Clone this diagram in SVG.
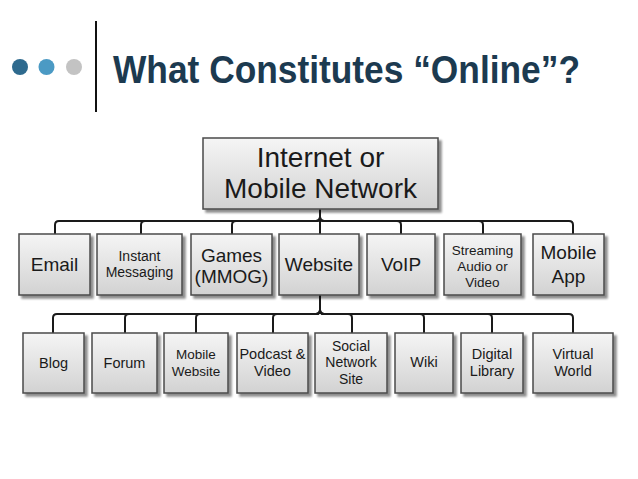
<svg xmlns="http://www.w3.org/2000/svg" width="638" height="479" viewBox="0 0 638 479">
<defs>
<linearGradient id="g" x1="0" y1="0" x2="0" y2="1">
<stop offset="0" stop-color="#f5f5f5"/>
<stop offset="1" stop-color="#d2d2d2"/>
</linearGradient>
<filter id="sh" x="-20%" y="-20%" width="140%" height="140%">
<feGaussianBlur in="SourceAlpha" stdDeviation="1.2"/>
<feOffset dx="3" dy="3" result="o"/>
<feComponentTransfer><feFuncA type="linear" slope="0.45"/></feComponentTransfer>
<feMerge><feMergeNode/><feMergeNode in="SourceGraphic"/></feMerge>
</filter>
</defs>
<style>
.box{fill:url(#g);stroke:#4a4a4a;stroke-width:1.5;filter:url(#sh)}
.t{font-family:"Liberation Sans",Arial,sans-serif;fill:#1a1a1a;text-anchor:middle}
.c{fill:none;stroke:#1a1a1a;stroke-width:2}
</style>
<rect width="638" height="479" fill="#ffffff"/>
<g id="title">
<circle cx="20" cy="67" r="8" fill="#2e6a8e"/>
<circle cx="46.5" cy="67" r="8" fill="#4b9ac4"/>
<circle cx="74" cy="67" r="8" fill="#c3c3c3"/>
<line x1="96" y1="21" x2="96" y2="112" stroke="#111" stroke-width="2"/>
<text x="113" y="83" font-family="Liberation Sans,Arial,sans-serif" font-weight="bold" font-size="38" textLength="467" lengthAdjust="spacingAndGlyphs" fill="#1c3a50">What Constitutes “Online”?</text>
</g>
<g id="connectors">
<path class="c" d="M320,209 V217 Q320,221 316,221 H59 Q55,221 55,225 V234"/>
<path class="c" d="M320,209 V217 Q320,221 316,221 H145 Q141,221 141,225 V234"/>
<path class="c" d="M320,209 V217 Q320,221 316,221 H236 Q232,221 232,225 V234"/>
<path class="c" d="M320,209 V234"/>
<path class="c" d="M320,209 V217 Q320,221 324,221 H397 Q401,221 401,225 V234"/>
<path class="c" d="M320,209 V217 Q320,221 324,221 H479 Q483,221 483,225 V234"/>
<path class="c" d="M320,209 V217 Q320,221 324,221 H569 Q573,221 573,225 V234"/>
<path class="c" d="M320,295 V310 Q320,314 316,314 H57 Q53,314 53,318 V333"/>
<path class="c" d="M320,295 V310 Q320,314 316,314 H129 Q125,314 125,318 V333"/>
<path class="c" d="M320,295 V310 Q320,314 316,314 H200 Q196,314 196,318 V333"/>
<path class="c" d="M320,295 V310 Q320,314 316,314 H277 Q273,314 273,318 V333"/>
<path class="c" d="M320,295 V310 Q320,314 324,314 H348 Q352,314 352,318 V333"/>
<path class="c" d="M320,295 V310 Q320,314 324,314 H420 Q424,314 424,318 V333"/>
<path class="c" d="M320,295 V310 Q320,314 324,314 H488 Q492,314 492,318 V333"/>
<path class="c" d="M320,295 V310 Q320,314 324,314 H569 Q573,314 573,318 V333"/>
</g>
<g id="internet">
<rect class="box" x="203" y="138" width="235" height="71"/>
<text class="t" x="320.5" y="167" font-size="28">Internet or</text>
<text class="t" x="320.5" y="198" font-size="28">Mobile Network</text>
</g>
<g id="email">
<rect class="box" x="19" y="234" width="71" height="61"/>
<text class="t" x="54.5" y="271" font-size="19">Email</text>
</g>
<g id="im">
<rect class="box" x="97" y="234" width="85" height="61"/>
<text class="t" x="139.5" y="261" font-size="14">Instant</text>
<text class="t" x="139.5" y="277" font-size="14">Messaging</text>
</g>
<g id="games">
<rect class="box" x="191" y="234" width="81" height="61"/>
<text class="t" x="231.5" y="262" font-size="19">Games</text>
<text class="t" x="231.5" y="283" font-size="19">(MMOG)</text>
</g>
<g id="website">
<rect class="box" x="279" y="234" width="80" height="61"/>
<text class="t" x="319" y="271" font-size="19">Website</text>
</g>
<g id="voip">
<rect class="box" x="367" y="234" width="68" height="61"/>
<text class="t" x="401" y="271" font-size="19">VoIP</text>
</g>
<g id="streaming">
<rect class="box" x="444" y="234" width="77" height="61"/>
<text class="t" x="482.5" y="255" font-size="13.5">Streaming</text>
<text class="t" x="482.5" y="271" font-size="13.5">Audio or</text>
<text class="t" x="482.5" y="287" font-size="13.5">Video</text>
</g>
<g id="mobileapp">
<rect class="box" x="533" y="234" width="71" height="61"/>
<text class="t" x="568.5" y="259" font-size="19">Mobile</text>
<text class="t" x="568.5" y="283" font-size="19">App</text>
</g>
<g id="blog">
<rect class="box" x="23" y="333" width="61" height="60"/>
<text class="t" x="53.5" y="368" font-size="14.5">Blog</text>
</g>
<g id="forum">
<rect class="box" x="92" y="333" width="65" height="60"/>
<text class="t" x="124.5" y="368" font-size="14.5">Forum</text>
</g>
<g id="mobilewebsite">
<rect class="box" x="164" y="333" width="64" height="60"/>
<text class="t" x="196" y="359" font-size="13.5">Mobile</text>
<text class="t" x="196" y="376" font-size="13.5">Website</text>
</g>
<g id="podcast">
<rect class="box" x="237" y="333" width="71" height="60"/>
<text class="t" x="272.5" y="359" font-size="14.5">Podcast &amp;</text>
<text class="t" x="272.5" y="376" font-size="14.5">Video</text>
</g>
<g id="social">
<rect class="box" x="315" y="333" width="72" height="60"/>
<text class="t" x="351" y="351" font-size="14">Social</text>
<text class="t" x="351" y="367" font-size="14">Network</text>
<text class="t" x="351" y="384" font-size="14">Site</text>
</g>
<g id="wiki">
<rect class="box" x="395" y="333" width="58" height="60"/>
<text class="t" x="424" y="367" font-size="14.5">Wiki</text>
</g>
<g id="digital">
<rect class="box" x="461" y="333" width="62" height="60"/>
<text class="t" x="492" y="359" font-size="14.5">Digital</text>
<text class="t" x="492" y="376" font-size="14.5">Library</text>
</g>
<g id="virtual">
<rect class="box" x="533" y="333" width="80" height="60"/>
<text class="t" x="573" y="359" font-size="14.5">Virtual</text>
<text class="t" x="573" y="376" font-size="14.5">World</text>
</g>
</svg>
